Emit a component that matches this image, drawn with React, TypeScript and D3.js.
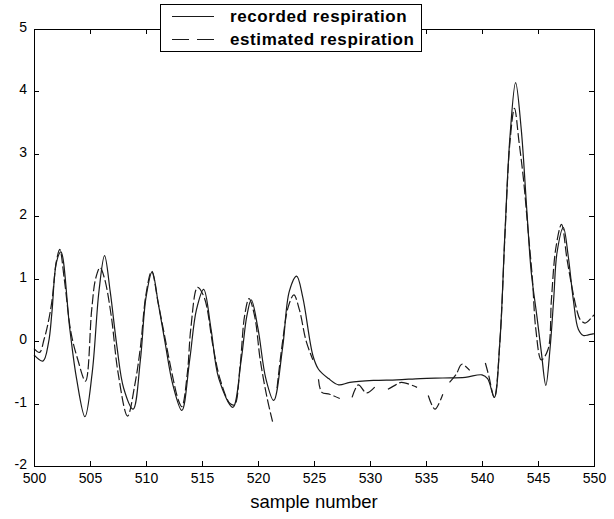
import { scaleLinear, line, curveCatmullRom, range } from "d3";

const W = 614;
const H = 519;
const margin = { top: 29, right: 20, bottom: 53, left: 34 };
const innerW = W - margin.left - margin.right;
const innerH = H - margin.top - margin.bottom;

const xTicks = range(500, 551, 5);
const yTicks = [-2, -1, 0, 1, 2, 3, 4, 5];

// recorded respiration (solid)
const recordedSample = [
  500, 500.8, 501.3, 501.6, 502, 502.4, 503.2, 503.8, 504.55, 505.2, 505.8, 506.3, 506.8, 507.4, 508,
  508.85, 509.5, 510, 510.55, 511.1, 511.7, 512.4, 513.2, 513.9, 514.5, 515.15, 515.8, 516.5, 517.75,
  518.5, 519, 519.4, 520, 520.7, 521.4, 522.2, 522.8, 523.45, 524, 524.9, 525.4, 526.3, 527.2, 528.2,
  530.3, 532.4, 534.5, 536.5, 538.5, 540, 540.5, 541.1, 541.6, 542.05, 542.5, 543, 543.5, 544, 544.4,
  544.9, 545.3, 545.7, 546.07, 546.4, 546.7, 547.26, 547.7, 548.15, 548.6, 549.05, 549.5, 550,
];
const recorded = [
  -0.22, -0.32, -0.02, 0.46, 1.26, 1.43, 0.19, -0.6, -1.21, -0.5, 0.8, 1.37, 0.8, -0.08, -0.75,
  -1.09, -0.3, 0.7, 1.11, 0.6, -0.02, -0.7, -1.11, -0.3, 0.5, 0.83, 0.2, -0.6, -1.06,
  -0.3, 0.4, 0.66, 0.2, -0.6, -0.95, -0.1, 0.8, 1.04, 0.7, -0.23, -0.45, -0.6, -0.7, -0.66,
  -0.63, -0.62, -0.6, -0.59, -0.58, -0.54, -0.6, -0.9, 0.0, 1.74, 3.28, 4.14, 3.4, 2.1, 1.1,
  0.4, -0.18, -0.71, -0.13, 0.67, 1.42, 1.82, 1.36, 0.67, 0.19, 0.09, 0.1, 0.12,
];

// estimated respiration (dashed), null = gap
const estimatedSample = [
  500, 500.5, 500.9, 501.2, 501.6, 502, 502.3, 502.7, 503.3, 503.9, 504.6, 505.15, 505.5, 505.9, 506.3,
  506.9, 507.5, 508.35, 509, 509.5, 510, 510.5, 511.1, 511.7, 512.3, 512.9, 513.2, 513.7, 514, 514.6,
  515.2, 516, 516.6, 517.5, 517.9, 518.4, 518.8, 519.2, 519.7, 520.2, 520.8, 521.3, 521.5, 521.7, 522.2,
  522.7, 523.2, 523.7, 524.3, 524.9, 525.1, 525.4, 525.7, 526.4, 527.3, 527.8, 528.4, 528.96, 529.7, 530.6,
  531.1, 531.6, 532.3, 532.8, 534.2, 534.7, 535.2, 535.8, 536.5, 536.8, 537.1, 537.7, 538.2, 538.9, 539.6,
  540.3, 540.6, 541.1, 541.6, 542.05, 542.5, 542.9, 543.3, 543.7, 544.1, 544.5, 544.8, 545.3, 545.9,
  546.2, 546.6, 547.1, 547.6, 548.1, 548.45, 548.75, 549.2, 549.8, 550,
];
const estimated = [
  -0.12, -0.18, 0.03, 0.24, 0.64, 1.28, 1.47, 1.0, 0.14, -0.29, -0.64, 0.5, 1.0, 1.18, 1.0,
  0.4, -0.5, -1.2, -0.7, -0.1, 0.75, 1.12, 0.6, 0.05, -0.5, -0.95, -1.05, -0.5, 0.2, 0.86,
  0.7, -0.1, -0.6, -1.0, -1.02, -0.4, 0.4, 0.68, 0.4, -0.3, -0.9, -1.29, null, -0.75, 0.0,
  0.55, 0.74, 0.5, 0.0, -0.3, null, -0.61, -0.82, -0.85, -0.92, null, -0.9, -0.7, -0.83, -0.7,
  null, -0.77, -0.7, -0.66, -0.74, null, -0.87, -1.09, -0.85, null, -0.66, -0.53, -0.37, -0.47, null,
  -0.35, -0.55, -0.9, 0.0, 1.7, 3.2, 3.73, 3.2, 2.6, 1.8, 1.0, 0.2, -0.3, -0.13,
  0.67, 1.5, 1.87, 1.3, 0.8, 0.51, 0.35, 0.29, 0.38, 0.42,
];

type Pt = { s: number; v: number | null };
const recordedPts: Pt[] = recordedSample.map((s, i) => ({ s, v: recorded[i] }));
const estimatedPts: Pt[] = estimatedSample.map((s, i) => ({ s, v: estimated[i] }));

const lineColor = "#1a1a1a";

export default function App() {
  const x = scaleLinear().domain([500, 550]).range([0, innerW]);
  const y = scaleLinear().domain([-2, 5]).range([innerH, 0]);

  const path = line<Pt>()
    .defined((d) => d.v !== null)
    .x((d) => x(d.s))
    .y((d) => y(d.v as number))
    .curve(curveCatmullRom.alpha(0.5));

  const tick = 5;
  const font = "'Liberation Sans', Arial, sans-serif";

  return (
    <svg width={W} height={H} style={{ position: "absolute", left: 0, top: 0, background: "#fff" }}>
      <g transform={`translate(${margin.left},${margin.top})`}>
        <rect x={0} y={0} width={innerW} height={innerH} fill="#fff" />
        <g fill="none" stroke={lineColor} strokeWidth={1.2}>
          <path d={path(recordedPts) || ""} />
          <path d={path(estimatedPts) || ""} strokeDasharray="10,3" />
        </g>
        {/* frame */}
        <rect x={0.5} y={0.5} width={innerW} height={innerH} fill="none" stroke="#000" strokeWidth={1} />
        {/* x ticks */}
        {xTicks.map((t) => (
          <g key={"x" + t} transform={`translate(${Math.round(x(t)) + 0.5},0)`}>
            <line y1={innerH} y2={innerH - tick} stroke="#000" />
            <line y1={0} y2={tick} stroke="#000" />
            <text y={innerH + 17} textAnchor="middle" fontFamily={font} fontSize={14} fill="#000">
              {t}
            </text>
          </g>
        ))}
        {/* y ticks */}
        {yTicks.map((t) => (
          <g key={"y" + t} transform={`translate(0,${Math.round(y(t)) + 0.5})`}>
            <line x1={0} x2={tick} stroke="#000" />
            <line x1={innerW} x2={innerW - tick} stroke="#000" />
            <text x={-7} dy="0.2em" textAnchor="end" fontFamily={font} fontSize={14} fill="#000">
              {t}
            </text>
          </g>
        ))}
        <text
          x={innerW / 2}
          y={innerH + 42}
          textAnchor="middle"
          fontFamily={font}
          fontSize={18.5}
          fill="#000"
        >
          sample number
        </text>
      </g>
      {/* legend */}
      <g>
        <rect x={160.5} y={4.5} width={261} height={47} fill="#fff" stroke="#000" />
        <line x1={172} x2={214} y1={16.5} y2={16.5} stroke={lineColor} strokeWidth={1.2} />
        <line x1={172} x2={214} y1={39.5} y2={39.5} stroke={lineColor} strokeWidth={1.2} strokeDasharray="17,8" />
        <text x={230} y={22} fontFamily={font} fontSize={17} fontWeight="bold" letterSpacing={0.6} fill="#000">
          recorded respiration
        </text>
        <text x={230} y={45} fontFamily={font} fontSize={17} fontWeight="bold" letterSpacing={0.6} fill="#000">
          estimated respiration
        </text>
      </g>
    </svg>
  );
}
